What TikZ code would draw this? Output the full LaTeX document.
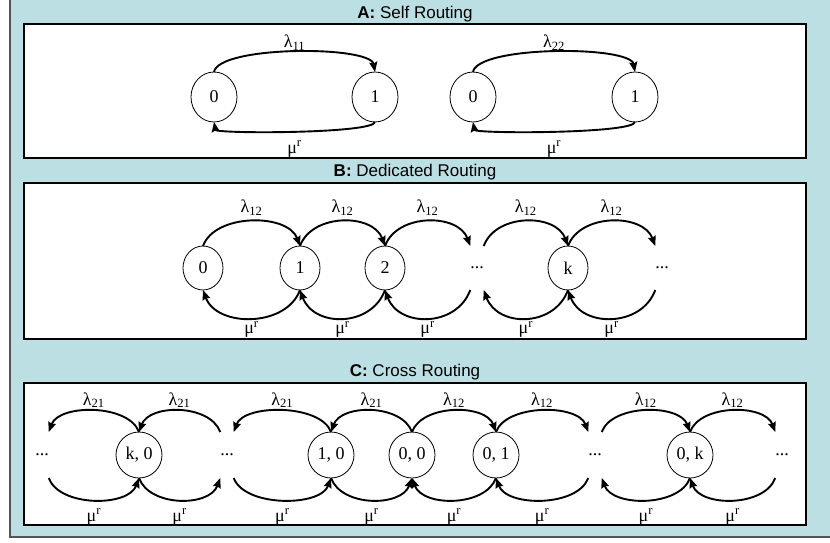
\documentclass[tikz,border=0pt]{standalone}
\usepackage{fontspec}
\setmainfont{Liberation Serif}
\newfontfamily\headfont{Liberation Sans}
\usepackage{tkz-graph}
\usetikzlibrary{arrows.meta}
\usetikzlibrary{shapes}
\definecolor{bgblue}{RGB}{187,223,227}
\definecolor{framegray}{RGB}{85,85,85}

\begin{document}
\begin{tikzpicture}[x = 1pt, y = -1pt]
\tikzstyle{ArcStyle}=[line width = 1.9pt,
                      -{Stealth[length = 10pt, width = 8pt, inset = 1.5pt]}]
\tikzstyle{TopRight}=[ArcStyle, out = 70, in = 110]
\tikzstyle{TopLeft}=[ArcStyle, out = 110, in = 70]
\tikzstyle{BotRight}=[ArcStyle, out = -70, in = -110]
\tikzstyle{BotLeft}=[ArcStyle, out = -110, in = -70]
\tikzstyle{LamLabel}=[inner sep = 0pt, font = \fontsize{18}{18}\selectfont]
\tikzstyle{MuLabel}=[inner sep = 0pt, font = \fontsize{18}{18}\selectfont]
\tikzstyle{TitleStyle}=[anchor = base, inner sep = 0pt,
                        font = \headfont\fontsize{17}{17}\selectfont]
\tikzstyle{PanelStyle}=[draw = black, line width = 1.2pt, fill = white]
\useasboundingbox (0,0) rectangle (830,542);
\fill[bgblue] (10,0) rectangle (830,537);
\draw[framegray, line width = 2pt] (10,0) -- (10,537) -- (830,537);
% panels and titles
\node[TitleStyle] (tA) at (415,18) {\textbf{A:} Self Routing};
\node[TitleStyle] (tB) at (415,176) {\textbf{B:} Dedicated Routing};
\node[TitleStyle] (tC) at (415,376) {\textbf{C:} Cross Routing};
\draw[PanelStyle] (24,24) rectangle (806,158);
\draw[PanelStyle] (24,183) rectangle (806,339);
\draw[PanelStyle] (24,383) rectangle (806,525);
% A: self routing
\tikzstyle{VertexStyle}=[shape = ellipse,
                         minimum width = 46pt,
                         minimum height = 50pt,
                         inner sep = 0pt,
                         line width = 0.8pt, fill = white,
                         font = \fontsize{18}{18}\selectfont,
                         draw]
\Vertex[x = 214, y = 97, L = 0]{a0}
\Vertex[x = 375, y = 97, L = 1]{a1}
\Vertex[x = 473, y = 97, L = 0]{a2}
\Vertex[x = 635, y = 97, L = 1]{a3}
\draw[ArcStyle, out = 80, in = 100, distance = 27pt] (a0.north) to node[LamLabel, above = 1pt] {λ\textsubscript{11}} (a1.north);
\draw[ArcStyle, out = -100, in = -80, distance = 12pt] (a1.south) to node[MuLabel, below = 9pt] {μ\textsuperscript{r}} (a0.south);
\draw[ArcStyle, out = 80, in = 100, distance = 27pt] (a2.north) to node[LamLabel, above = 1pt] {λ\textsubscript{22}} (a3.north);
\draw[ArcStyle, out = -100, in = -80, distance = 12pt] (a3.south) to node[MuLabel, below = 9pt] {μ\textsuperscript{r}} (a2.south);
% B: dedicated routing
\tikzstyle{VertexStyle}=[shape = ellipse,
                         minimum width = 40pt,
                         minimum height = 44pt,
                         inner sep = 0pt,
                         line width = 0.8pt, fill = white,
                         font = \fontsize{18}{18}\selectfont,
                         draw]
\Vertex[x = 203, y = 268, L = 0]{b0}
\Vertex[x = 300, y = 268, L = 1]{b1}
\Vertex[x = 385, y = 268, L = 2]{b2}
\Vertex[x = 568, y = 268, L = k]{b4}
\tikzstyle{VertexStyle}=[shape = rectangle,
                         minimum width = 12pt,
                         minimum height = 44pt,
                         inner sep = 0pt,
                         font = \fontsize{18}{18}\selectfont]
\Vertex[x = 477, y = 268, L = ...]{b3}
\Vertex[x = 662, y = 268, L = ...]{b5}
\draw[TopRight, distance = 35pt] (b0.north) to node[LamLabel, above = 5pt] {λ\textsubscript{12}} (b1.north);
\draw[TopRight, distance = 35pt] (b1.north) to node[LamLabel, above = 5pt] {λ\textsubscript{12}} (b2.north);
\draw[TopRight, distance = 35pt] (b2.north) to node[LamLabel, above = 5pt] {λ\textsubscript{12}} (b3.north west);
\draw[TopRight, distance = 35pt] (b3.north east) to node[LamLabel, above = 5pt] {λ\textsubscript{12}} (b4.north);
\draw[TopRight, distance = 35pt] (b4.north) to node[LamLabel, above = 5pt] {λ\textsubscript{12}} (b5.north west);
\draw[BotLeft, distance = 40pt] (b1.south) to node[MuLabel, below = 2pt] {μ\textsuperscript{r}} (b0.south);
\draw[BotLeft, distance = 40pt] (b2.south) to node[MuLabel, below = 2pt] {μ\textsuperscript{r}} (b1.south);
\draw[BotLeft, distance = 40pt] (b3.south west) to node[MuLabel, below = 2pt] {μ\textsuperscript{r}} (b2.south);
\draw[BotLeft, distance = 40pt] (b4.south) to node[MuLabel, below = 2pt] {μ\textsuperscript{r}} (b3.south east);
\draw[BotLeft, distance = 40pt] (b5.south west) to node[MuLabel, below = 2pt] {μ\textsuperscript{r}} (b4.south);
% C: cross routing
\tikzstyle{VertexStyle}=[shape = ellipse,
                         minimum width = 46pt,
                         minimum height = 46pt,
                         inner sep = 0pt,
                         line width = 0.8pt, fill = white,
                         font = \fontsize{18}{18}\selectfont,
                         draw]
\Vertex[x = 139, y = 455, L = {k, 0}]{c1}
\Vertex[x = 331, y = 455, L = {1, 0}]{c3}
\Vertex[x = 412, y = 455, L = {0, 0}]{c4}
\Vertex[x = 496, y = 455, L = {0, 1}]{c5}
\Vertex[x = 690, y = 455, L = {0, k}]{c7}
\tikzstyle{VertexStyle}=[shape = rectangle,
                         minimum width = 12pt,
                         minimum height = 46pt,
                         inner sep = 0pt,
                         font = \fontsize{18}{18}\selectfont]
\Vertex[x = 42, y = 455, L = ...]{c0}
\Vertex[x = 227, y = 455, L = ...]{c2}
\Vertex[x = 595, y = 455, L = ...]{c6}
\Vertex[x = 782, y = 455, L = ...]{c8}
\draw[TopLeft, distance = 30pt] (c1.north) to node[LamLabel, above = 2pt] {λ\textsubscript{21}} (c0.north east);
\draw[TopLeft, distance = 30pt] (c2.north west) to node[LamLabel, above = 2pt] {λ\textsubscript{21}} (c1.north);
\draw[TopLeft, distance = 30pt] (c3.north) to node[LamLabel, above = 2pt] {λ\textsubscript{21}} (c2.north east);
\draw[TopLeft, distance = 30pt] (c4.north) to node[LamLabel, above = 2pt] {λ\textsubscript{21}} (c3.north);
\draw[TopRight, distance = 30pt] (c4.north) to node[LamLabel, above = 2pt] {λ\textsubscript{12}} (c5.north);
\draw[TopRight, distance = 30pt] (c5.north) to node[LamLabel, above = 2pt] {λ\textsubscript{12}} (c6.north west);
\draw[TopRight, distance = 30pt] (c6.north east) to node[LamLabel, above = 2pt] {λ\textsubscript{12}} (c7.north);
\draw[TopRight, distance = 30pt] (c7.north) to node[LamLabel, above = 2pt] {λ\textsubscript{12}} (c8.north west);
\draw[BotRight, distance = 31pt] (c0.south east) to node[MuLabel, below = 8pt] {μ\textsuperscript{r}} (c1.south);
\draw[BotRight, distance = 31pt] (c1.south) to node[MuLabel, below = 8pt] {μ\textsuperscript{r}} (c2.south west);
\draw[BotRight, distance = 31pt] (c2.south east) to node[MuLabel, below = 8pt] {μ\textsuperscript{r}} (c3.south);
\draw[BotRight, distance = 31pt] (c3.south) to node[MuLabel, below = 8pt] {μ\textsuperscript{r}} (c4.south);
\draw[BotLeft, distance = 31pt] (c5.south) to node[MuLabel, below = 8pt] {μ\textsuperscript{r}} (c4.south);
\draw[BotLeft, distance = 31pt] (c6.south west) to node[MuLabel, below = 8pt] {μ\textsuperscript{r}} (c5.south);
\draw[BotLeft, distance = 31pt] (c7.south) to node[MuLabel, below = 8pt] {μ\textsuperscript{r}} (c6.south east);
\draw[BotLeft, distance = 31pt] (c8.south west) to node[MuLabel, below = 8pt] {μ\textsuperscript{r}} (c7.south);
\end{tikzpicture}
\end{document}
